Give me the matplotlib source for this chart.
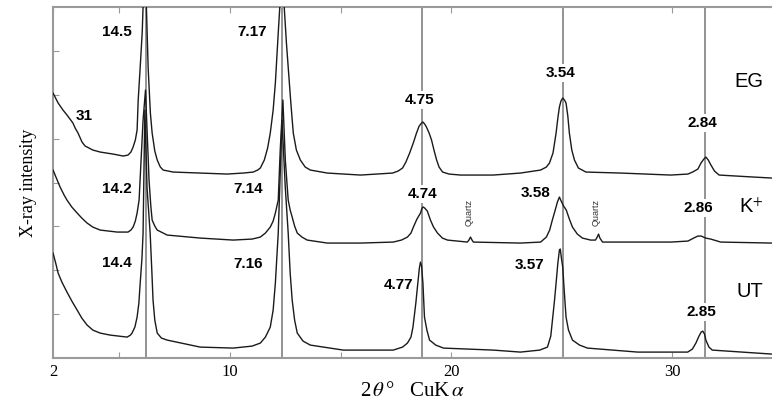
"""
X-ray diffraction patterns (EG, K+, UT) with d-spacing labels.
"""

import matplotlib

matplotlib.use("Agg")
import matplotlib.pyplot as plt
import numpy as np

# EG-solvated trace (2-theta in degrees, intensity in arbitrary units)
eg_2theta = [2.0, 2.23, 2.45, 2.63, 2.8, 2.9, 3.0, 3.13, 3.31, 3.45, 3.54, 3.8,
             4.13, 4.71, 5.17, 5.39, 5.52, 5.62, 5.72, 5.8, 5.85, 5.94, 6.03,
             6.07, 6.12, 6.22, 6.3, 6.4, 6.48, 6.6, 6.71, 6.85, 6.98, 7.43, 8.65,
             9.87, 10.6, 11.05, 11.25, 11.37, 11.55, 11.7, 11.82, 11.95, 12.05,
             12.18, 12.25, 12.33, 12.45, 12.55, 12.63, 12.75, 12.86, 13.0, 13.18,
             13.4, 13.63, 14.4, 15.9, 17.35, 17.6, 17.8, 17.95, 18.12, 18.3,
             18.43, 18.55, 18.66, 18.72, 18.8, 18.88, 19.0, 19.11, 19.22, 19.34,
             19.45, 19.61, 19.9, 20.42, 21.9, 23.13, 24.04, 24.3, 24.44, 24.6,
             24.74, 24.82, 24.89, 24.96, 25.04, 25.12, 25.19, 25.27, 25.34, 25.45,
             25.57, 25.75, 26.09, 27.66, 29.92, 30.7, 30.91, 31.15, 31.29, 31.42,
             31.51, 31.62, 31.74, 31.9, 32.11, 33.67, 34.5]
eg_int = [265, 255, 248, 243, 238, 235, 230, 225, 216, 212, 211, 208,
          206, 204, 202, 203, 206, 211, 218, 228, 258, 291, 325,
          351, 520, 351, 290, 245, 225, 207, 198, 191, 188, 186, 185,
          184, 185, 186, 188, 190, 198, 210, 225, 248, 275,
          325, 351, 520, 351, 315, 291, 255, 225, 208, 198,
          191, 188, 185, 183, 185, 187, 190, 196, 205, 216,
          225, 232, 235, 236, 234, 231, 225, 218, 208, 198,
          191, 186, 184, 183, 183, 185, 188, 191, 195, 205,
          225, 240, 251, 257, 260, 258, 255, 242, 225, 208,
          198, 190, 186, 185, 183, 184, 186, 189, 195, 199,
          201, 198, 193, 187, 183, 181, 180]

# K+ saturated trace
kp_2theta = [2.0, 2.15, 2.32, 2.5, 2.63, 2.85, 3.09, 3.3, 3.54, 3.8, 4.13, 4.9,
             5.39, 5.52, 5.62, 5.72, 5.8, 5.89, 5.98, 6.07, 6.18, 6.25, 6.34,
             6.42, 6.48, 6.6, 6.71, 7.16, 8.65, 10.14, 11.0, 11.37, 11.6, 11.82,
             11.95, 12.05, 12.18, 12.27, 12.39, 12.5, 12.63, 12.72, 12.81, 12.92,
             13.04, 13.25, 13.49, 14.4, 15.9, 17.38, 17.75, 18.02, 18.18, 18.29,
             18.45, 18.61, 18.68, 18.74, 18.8, 18.92, 19.06, 19.2, 19.38, 19.6,
             19.83, 20.73, 20.8, 20.87, 20.94, 21.0, 23.13, 24.04, 24.3, 24.45,
             24.57, 24.7, 24.8, 24.89, 24.97, 25.08, 25.2, 25.34, 25.48, 25.7,
             25.93, 26.3, 26.52, 26.6, 26.66, 26.72, 26.84, 27.66, 29.92, 30.7,
             30.96, 31.15, 31.3, 31.5, 31.73, 32.18, 34.5]
kp_int = [188, 180, 171, 163, 158, 151, 145, 140, 135, 131, 128, 126,
          126, 128, 131, 137, 145, 158, 198, 238, 268, 228, 178,
          152, 138, 132, 128, 123, 120, 118, 119, 121, 125, 131,
          137, 145, 158, 208, 258, 198, 158, 148, 141, 132,
          125, 121, 118, 115, 115, 116, 118, 121, 125, 131,
          139, 145, 150, 151, 150, 147, 138, 131, 125, 120,
          118, 116, 118, 121, 118, 116, 115, 116, 121, 128,
          138, 148, 156, 161, 157, 152, 148, 139, 131, 124,
          120, 118, 118, 121, 124, 120, 116, 116, 116, 117,
          120, 122, 122, 120, 119, 116, 115]

# Untreated trace
ut_2theta = [2.0, 2.12, 2.23, 2.4, 2.63, 2.85, 3.09, 3.3, 3.54, 3.8, 4.13, 4.58,
             5.35, 5.5, 5.57, 5.7, 5.8, 5.88, 5.94, 6.02, 6.07, 6.15, 6.25, 6.39,
             6.47, 6.52, 6.6, 6.71, 6.9, 7.16, 8.65, 10.14, 11.0, 11.37, 11.6,
             11.82, 11.95, 12.05, 12.18, 12.35, 12.5, 12.63, 12.72, 12.81, 12.92,
             13.04, 13.3, 13.63, 15.12, 17.38, 17.8, 18.02, 18.18, 18.27, 18.4,
             18.49, 18.56, 18.61, 18.66, 18.72, 18.79, 18.9, 19.02, 19.3, 19.65,
             21.9, 23.13, 24.0, 24.35, 24.5, 24.59, 24.67, 24.74, 24.82, 24.89,
             24.93, 24.98, 25.04, 25.1, 25.19, 25.3, 25.48, 25.8, 26.16, 28.43,
             30.69, 30.9, 31.06, 31.2, 31.3, 31.37, 31.45, 31.51, 31.65, 31.8,
             34.5]
ut_int = [105, 95, 85, 76, 66, 57, 48, 40, 33, 28, 25, 23,
          21, 23, 25, 31, 41, 55, 75, 100, 125, 248, 170, 125,
          85, 58, 38, 25, 20, 18, 11, 10, 12, 15, 21,
          31, 48, 75, 125, 238, 170, 125, 85, 58, 38,
          25, 17, 13, 8, 8, 11, 15, 21, 31, 55,
          75, 90, 96, 92, 75, 41, 28, 18, 13, 10,
          8, 6, 8, 11, 22, 41, 58, 75, 95, 108,
          109, 100, 91, 70, 41, 28, 18, 13, 10, 6,
          6, 9, 15, 22, 26, 27, 24, 18, 11, 8,
          4]

# reference lines at the basal / higher order reflections
ref_lines = [6.18, 12.36, 18.70, 25.05, 31.48]

# d-spacing labels and where they sit
d_labels = ["14.5", "7.17", "31", "4.75", "3.54", "2.84",
            "14.2", "7.14", "4.74", "3.58", "2.86",
            "14.4", "7.16", "4.77", "3.57", "2.85"]
d_label_x = [4.89, 10.98, 3.40, 18.58, 24.96, 31.36,
             4.89, 10.80, 18.70, 23.81, 31.18,
             4.89, 10.80, 17.62, 23.54, 31.30]
d_label_y = [326, 326, 242, 258, 285, 235,
             169, 169, 164, 165, 150,
             95, 94, 73, 93, 46]
on_line = ["4.75", "3.54", "2.84", "4.74", "2.86", "2.85"]

sample_names = ["EG", "K$^{+}$", "UT"]
sample_x = [33.47, 33.56, 33.51]
sample_y = [277, 151, 67]

quartz_x = [20.83, 26.56]
quartz_y = [146, 146]

x_ticks = [2, 5, 10, 15, 20, 25, 30]
x_tick_labels = ["2", "", "10", "", "20", "", "30"]

plt.rcParams["mathtext.fontset"] = "stix"

fig = plt.figure(figsize=(7.72, 4.01), dpi=100)
ax = fig.add_axes([0.0687, 0.107, 0.9313, 0.8755])

spine_grey = "#9a9a9a"
line_grey = "#8a8a8a"

for xv in ref_lines:
    ax.axvline(xv, color=line_grey, linewidth=1.3, zorder=1)

for xs, ys in [(eg_2theta, eg_int), (kp_2theta, kp_int), (ut_2theta, ut_int)]:
    ax.plot(xs, ys, color="#1a1a1a", linewidth=1.0, zorder=3)

for txt, xv, yv in zip(d_labels, d_label_x, d_label_y):
    box = None
    if txt in on_line:
        box = dict(facecolor="white", edgecolor="none", pad=1.5)
    ax.text(xv, yv, txt, ha="center", va="center", fontsize=11,
            fontweight="bold", family="Liberation Sans", bbox=box, zorder=5)

for name, xv, yv in zip(sample_names, sample_x, sample_y):
    ax.text(xv, yv, name, ha="center", va="center", fontsize=14.5,
            family="Liberation Sans", zorder=5)

for xv, yv in zip(quartz_x, quartz_y):
    ax.text(xv, yv, "Quartz", ha="center", va="center", fontsize=6.5,
            rotation=90, family="Liberation Sans", color="#333333", zorder=5)

ax.set_xlim(2, 34.5)
ax.set_ylim(0, 351)

ax.set_xticks(x_ticks)
ax.set_xticklabels(x_tick_labels, family="Liberation Serif", fontsize=12)
ax.set_yticks(np.linspace(0, 351, 9)[1:-1])
ax.set_yticklabels([])
ax.tick_params(axis="x", direction="in", top=True, length=4, color=spine_grey,
               pad=4)
ax.tick_params(axis="y", direction="in", length=4, color=spine_grey)

for side in ["left", "bottom", "top"]:
    ax.spines[side].set_color(spine_grey)
    ax.spines[side].set_linewidth(1.5)
ax.spines["right"].set_visible(False)

ax.set_xlabel(r"2$\,\theta\,$°   CuK$\,\alpha$", family="Liberation Serif",
              fontsize=15, labelpad=2)
ax.set_ylabel("X-ray intensity", family="Liberation Serif", fontsize=13,
              labelpad=8)

fig.savefig("out.png", dpi=100)
